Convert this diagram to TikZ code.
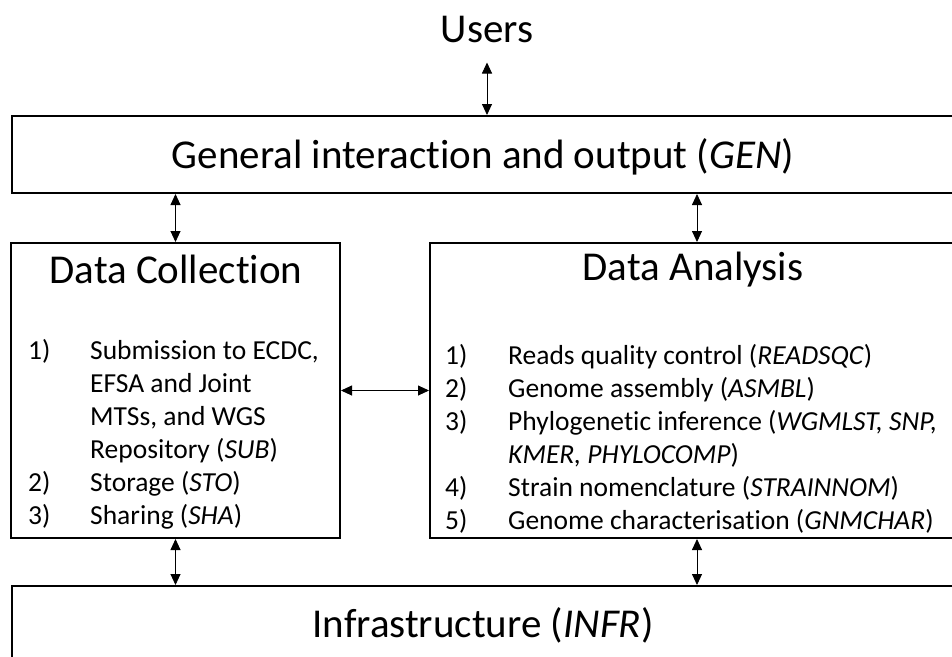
\documentclass[tikz,border=0pt]{standalone}
\usepackage{fontspec}
\setmainfont{Carlito}[Ligatures=NoCommon]
\usetikzlibrary{arrows.meta}
\tikzset{
	block/.style={draw,rectangle,line width=2pt,inner sep=0pt},
	link/.style={{Triangle[length=11pt,width=10pt]}-{Triangle[length=11pt,width=10pt]},line width=0.9pt},
	heading/.style={font=\fontsize{41}{49}\selectfont,anchor=base,inner sep=0pt},
	items/.style={font=\fontsize{27.5}{33}\selectfont,anchor=north west,inner sep=0pt,align=left}
}

\begin{document}
\begin{tikzpicture}[x=1pt,y=-1pt]
				\useasboundingbox (0,0) rectangle (952,656);
				\clip (0,0) rectangle (952,656);
				\begin{scope}[]
					\node[block,minimum width=942pt,minimum height=77pt] (genbox) at (483,154.5) {};
					\node[block,minimum width=329pt,minimum height=295pt] (dcbox) at (175.5,390.5) {};
					\node[block,minimum width=534pt,minimum height=295pt] (dabox) at (697,390.5) {};
					\node[block,minimum width=942pt,minimum height=78pt] (infrbox) at (483,625) {};
				\end{scope}
				\begin{scope}[]
					\node[heading] (users) at (487,42) {Users};
					\node[heading] (gen) at (483,168) {General interaction and output (\textit{GEN})};
					\node[heading] (dc) at (176,283) {Data Collection};
					\node[heading] (da) at (693,280) {Data Analysis};
					\node[heading] (infr) at (483,637) {Infrastructure (\textit{INFR})};

					\node[items] (dclist) at (28,336) {%
						\begin{tabular}{@{}p{62pt}@{}l@{}}
							1) & Submission to ECDC,\\
							   & EFSA and Joint\\
							   & MTSs, and WGS\\
							   & Repository (\textit{SUB})\\
							2) & Storage (\textit{STO})\\
							3) & Sharing (\textit{SHA})
						\end{tabular}};
					\node[items] (dalist) at (445,341) {%
						\begin{tabular}{@{}p{63pt}@{}l@{}}
							1) & Reads quality control (\textit{READSQC})\\
							2) & Genome assembly (\textit{ASMBL})\\
							3) & Phylogenetic inference (\textit{WGMLST, SNP,}\\
							   & \textit{KMER, PHYLOCOMP})\\
							4) & Strain nomenclature (\textit{STRAINNOM})\\
							5) & Genome characterisation (\textit{GNMCHAR})
						\end{tabular}};
				\end{scope}
				\begin{scope}[]
					\draw[link,shorten <=20pt] (users.south) -- (users.south |- genbox.north);
					\draw[link] (dcbox.north |- genbox.south) -- (dcbox.north);
					\draw[link] (dabox.north |- genbox.south) -- (dabox.north);
					\draw[link] (dcbox) -- (dabox);
					\draw[link] (dcbox.south) -- (dcbox.south |- infrbox.north);
					\draw[link] (dabox.south) -- (dabox.south |- infrbox.north);
				\end{scope}
			\end{tikzpicture}
\end{document}
